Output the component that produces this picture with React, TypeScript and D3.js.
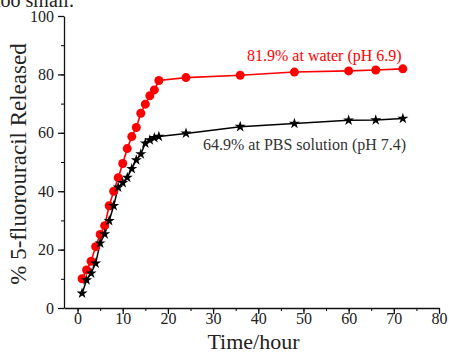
import React from 'react';
import * as d3 from 'd3';

// time points (hours)
const hours = [1, 2, 3, 4, 5, 6, 7, 8, 9, 10, 11, 12, 13, 14, 15, 16, 17, 18, 24, 36, 48, 60, 66, 72];
// % released in water (pH 6.9)
const waterRelease = [10, 13, 16, 21, 25.2, 28.2, 35, 40, 44.6, 49.5, 54.6, 58.7, 61.8, 66.7, 69.8, 72.7, 74.7, 77.9, 78.9, 79.7, 80.8, 81.2, 81.5, 81.9];
// % released in PBS (pH 7.4)
const pbsRelease = [5, 9.6, 11.9, 15.3, 22.2, 25.3, 29.9, 35, 41.3, 42.9, 44.7, 47.7, 50.7, 52.7, 56.4, 57.5, 58.3, 58.7, 59.8, 62.1, 63.2, 64.3, 64.4, 64.9];

const xMajorTicks = [0, 10, 20, 30, 40, 50, 60, 70, 80];
const yMajorTicks = [0, 20, 40, 60, 80, 100];

const width = 449;
const height = 358;
const font = '"Liberation Serif", "Times New Roman", serif';

const App: React.FC = () => {
    const svgRef = React.useRef<SVGSVGElement>(null);

    React.useEffect(() => {
        if (!svgRef.current) return;
        const svg = d3.select(svgRef.current);
        svg.selectAll('*').remove();

        const left = 64, right = 439, top = 16, bottom = 308;

        const x = d3.scaleLinear().domain([-3, 80]).range([left, right]);
        const y = d3.scaleLinear().domain([0, 100]).range([bottom, top]);

        // minor ticks
        svg.append('g')
            .attr('transform', `translate(0, ${bottom})`)
            .call(d3.axisBottom(x).tickValues(d3.range(0, 81, 5)).tickSize(3).tickSizeOuter(0).tickFormat(() => ''))
            .call(g => g.select('.domain').remove());
        svg.append('g')
            .attr('transform', `translate(${left}, 0)`)
            .call(d3.axisLeft(y).tickValues(d3.range(0, 101, 10)).tickSize(3).tickSizeOuter(0).tickFormat(() => ''))
            .call(g => g.select('.domain').remove());

        // major ticks + axis lines
        const xAxis = svg.append('g')
            .attr('transform', `translate(0, ${bottom})`)
            .call(d3.axisBottom(x).tickValues(xMajorTicks).tickSize(6).tickSizeOuter(0).tickPadding(0));
        xAxis.selectAll('text').attr('dy', '0.62em');
        const yAxis = svg.append('g')
            .attr('transform', `translate(${left}, 0)`)
            .call(d3.axisLeft(y).tickValues(yMajorTicks).tickSize(6).tickSizeOuter(0).tickPadding(4));

        [xAxis, yAxis].forEach(a => {
            a.selectAll('text').attr('font-family', font).attr('font-size', 16).attr('fill', '#222');
            a.selectAll('line, path').attr('stroke', '#111').attr('stroke-width', 1.3);
        });

        const waterData = hours.map((h, i) => [h, waterRelease[i]] as [number, number]);
        const pbsData = hours.map((h, i) => [h, pbsRelease[i]] as [number, number]);

        const line = d3.line<[number, number]>().x(d => x(d[0])).y(d => y(d[1]));

        svg.append('path')
            .datum(pbsData)
            .attr('d', line)
            .attr('fill', 'none')
            .attr('stroke', '#000')
            .attr('stroke-width', 1.5);

        svg.append('path')
            .datum(waterData)
            .attr('d', line)
            .attr('fill', 'none')
            .attr('stroke', '#ff0000')
            .attr('stroke-width', 1.6);

        svg.selectAll('circle.water')
            .data(waterData)
            .enter()
            .append('circle')
            .attr('class', 'water')
            .attr('cx', d => x(d[0]))
            .attr('cy', d => y(d[1]))
            .attr('r', 4.5)
            .attr('fill', '#ff0000');

        const star = d3.symbol().type(d3.symbolStar).size(38);
        svg.selectAll('path.pbs')
            .data(pbsData)
            .enter()
            .append('path')
            .attr('class', 'pbs')
            .attr('d', star)
            .attr('transform', d => `translate(${x(d[0])}, ${y(d[1])})`)
            .attr('fill', '#000');

        // annotations
        svg.append('text')
            .attr('x', 247).attr('y', 61)
            .attr('font-family', font).attr('font-size', 16)
            .attr('fill', '#ff0000')
            .text('81.9% at water (pH 6.9)');
        svg.append('text')
            .attr('x', 203).attr('y', 150)
            .attr('font-family', font).attr('font-size', 16)
            .attr('fill', '#333')
            .text('64.9% at PBS solution (pH 7.4)');

        // axis titles
        svg.append('text')
            .attr('x', (left + right) / 2 + 2).attr('y', 349)
            .attr('text-anchor', 'middle')
            .attr('font-family', font).attr('font-size', 22)
            .attr('fill', '#222')
            .text('Time/hour');
        svg.append('text')
            .attr('transform', `translate(26, ${(top + bottom) / 2 + 2}) rotate(-90)`)
            .attr('text-anchor', 'middle')
            .attr('font-family', font).attr('font-size', 23)
            .attr('fill', '#222')
            .text('% 5-fluorouracil Released');

        // clipped caption remnant at top
        svg.append('text')
            .attr('x', -5).attr('y', 7)
            .attr('font-family', font).attr('font-size', 20)
            .attr('fill', '#222')
            .text('too small.');
    }, []);

    return (
        <svg
            ref={svgRef}
            width={width}
            height={height}
            style={{ position: 'absolute', left: 0, top: 0, background: '#fff' }}
        />
    );
};

export default App;
